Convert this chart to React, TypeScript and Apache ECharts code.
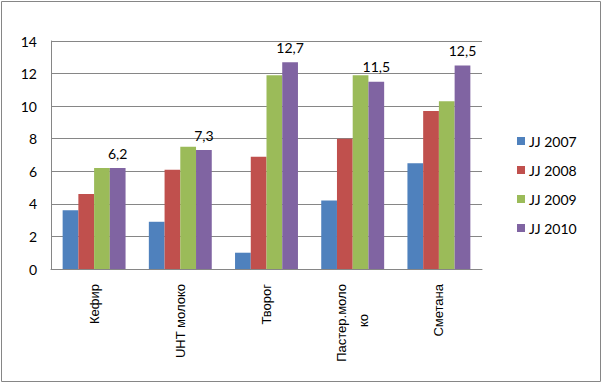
import React, { useEffect, useRef } from "react";
import * as echarts from "echarts";

const categories = ["Кефир", "UHT молоко", "Творог", "Пастер.моло\nко", "Сметана"];
const seriesNames = ["JJ 2007", "JJ 2008", "JJ 2009", "JJ 2010"];
const values2007 = [3.6, 2.9, 1.0, 4.2, 6.5];
const values2008 = [4.6, 6.1, 6.9, 8.0, 9.7];
const values2009 = [6.2, 7.5, 11.9, 11.9, 10.3];
const values2010 = [6.2, 7.3, 12.7, 11.5, 12.5];
const yTicks = { min: 0, max: 14, interval: 2 };
const colors = ["#4F81BD", "#C0504D", "#9BBB59", "#8064A2"];

export default function App() {
  const ref = useRef<HTMLDivElement>(null);
  useEffect(() => {
    if (!ref.current) return;
    const chart = echarts.init(ref.current, null, { renderer: "svg" });
    const allValues = [values2007, values2008, values2009, values2010];
    const labelFont = "Lato, 'Open Sans', sans-serif";
    const axisFont = "'Liberation Sans', Arial, sans-serif";
    chart.setOption({
      animation: false,
      backgroundColor: "#ffffff",
      graphic: [
        {
          type: "rect",
          shape: { x: 1.5, y: 1.5, width: 599, height: 380 },
          style: { fill: "none", stroke: "#868686", lineWidth: 1 },
          silent: true,
        },
      ],
      grid: { left: 51, right: 121, top: 41, bottom: 115, containLabel: false },
      legend: {
        orient: "vertical",
        left: 512,
        top: 129,
        itemWidth: 8,
        itemHeight: 8,
        itemGap: 15,
        icon: "rect",
        textStyle: { fontFamily: labelFont, fontSize: 14, color: "#000", padding: [0, 0, 0, -1] },
        data: seriesNames,
      },
      xAxis: {
        type: "category",
        data: categories,
        axisLine: { show: true, lineStyle: { color: "#868686" } },
        axisTick: { show: false },
        axisLabel: {
          rotate: 90,
          margin: 15,
          interval: 0,
          fontFamily: axisFont,
          fontSize: 13,
          color: "#000",
          formatter: (v: string) => {
            const lines = v.split("\n");
            return lines
              .map((s, i) => (i > 0 && i === lines.length - 1 ? "{k|" + s + "}" : "{c|" + s + "}"))
              .join("\n");
          },
          rich: {
            c: {
              fontFamily: axisFont,
              fontSize: 13,
              color: "#000",
              lineHeight: 22,
            },
            k: {
              fontFamily: axisFont,
              fontSize: 13,
              color: "#000",
              lineHeight: 22,
              padding: [0, 30, 0, 0],
            },
          },
        },
      },
      yAxis: {
        type: "value",
        min: yTicks.min,
        max: yTicks.max,
        interval: yTicks.interval,
        axisLine: { show: true, lineStyle: { color: "#868686" } },
        axisTick: { show: false },
        splitLine: { show: true, lineStyle: { color: "#868686", width: 1 } },
        axisLabel: {
          margin: 14,
          fontFamily: labelFont,
          fontSize: 14,
          color: "#000",
        },
      },
      series: seriesNames.map((name, i) => ({
        name,
        type: "bar",
        data: allValues[i],
        barGap: "0%",
        barCategoryGap: "27%",
        itemStyle: { color: colors[i] },
        label:
          i === 3
            ? {
                show: true,
                position: "top",
                distance: 8,
                fontFamily: labelFont,
                fontSize: 14,
                color: "#000",
                formatter: (p: any) => String(p.value).replace(".", ","),
              }
            : { show: false },
      })),
    });
    return () => chart.dispose();
  }, []);
  return (
    <div
      ref={ref}
      style={{ position: "fixed", left: 0, top: 0, width: 603, height: 384 }}
    />
  );
}
